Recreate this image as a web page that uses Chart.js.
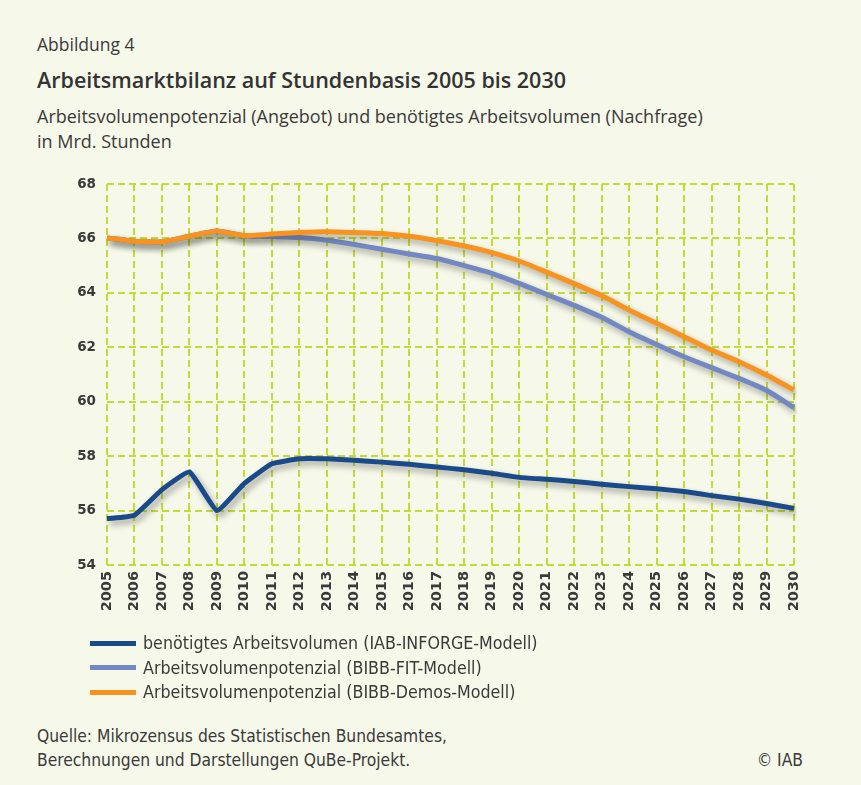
<!DOCTYPE html>
<html>
<head>
<meta charset="utf-8">
<script src="https://cdn.jsdelivr.net/npm/chart.js@4"></script>
<style>
  html, body { margin: 0; padding: 0; }
  body { width: 861px; height: 785px; background: #f6f8ea; position: relative; overflow: hidden; color: #3a3a3a; }
  .t { position: absolute; left: 37px; white-space: nowrap; font-family: "Open Sans", sans-serif; line-height: 1; }
  .cond { font-family: "DejaVu Sans", "Liberation Sans Narrow", sans-serif; font-stretch: condensed; }
  #wrap { position: absolute; left: 0; top: 160px; width: 861px; height: 478px; }
  #legend { position: absolute; left: 90px; top: 631px; }
  .item { display: flex; align-items: center; height: 24.5px; font-size: 17.7px; white-space: nowrap; }
  .sw { width: 46px; height: 5px; margin-right: 7px; }
</style>
</head>
<body>
<div class="t" style="top:36px;font-size:17.5px;">Abbildung 4</div>
<div class="t" style="top:69px;font-size:21.5px;font-weight:600;color:#333;">Arbeitsmarktbilanz auf Stundenbasis 2005 bis 2030</div>
<div class="t" style="top:107px;font-size:18px;">Arbeitsvolumenpotenzial (Angebot) und benötigtes Arbeitsvolumen (Nachfrage)</div>
<div class="t" style="top:132px;font-size:18px;">in Mrd. Stunden</div>

<div id="wrap"><canvas id="chart" width="861" height="478"></canvas></div>
<div id="legend"></div>

<div class="t cond" style="top:728px;font-size:17.3px;">Quelle: Mikrozensus des Statistischen Bundesamtes,</div>
<div class="t cond" style="top:752px;font-size:17.3px;">Berechnungen und Darstellungen QuBe-Projekt.</div>
<div class="t cond" style="top:752px;left:auto;right:58px;font-size:17.3px;">© IAB</div>

<script>
const years = ["2005", "2006", "2007", "2008", "2009", "2010", "2011", "2012", "2013",
  "2014", "2015", "2016", "2017", "2018", "2019", "2020", "2021", "2022", "2023",
  "2024", "2025", "2026", "2027", "2028", "2029", "2030"];

// benötigtes Arbeitsvolumen (IAB-INFORGE)
const inforge = [55.7, 55.83, 56.77, 57.42, 56.0, 57.0, 57.72, 57.9, 57.9, 57.85,
  57.78, 57.7, 57.6, 57.5, 57.37, 57.22, 57.15, 57.07, 56.97, 56.88,
  56.8, 56.7, 56.55, 56.42, 56.26, 56.08];

// Arbeitsvolumenpotenzial (BIBB-FIT)
const bibbFit = [66.02, 65.9, 65.87, 66.08, 66.27, 66.1, 66.07, 66.03, 65.93, 65.78,
  65.6, 65.43, 65.26, 65.0, 64.72, 64.35, 63.94, 63.54, 63.1, 62.57,
  62.1, 61.65, 61.25, 60.86, 60.42, 59.78];

// Arbeitsvolumenpotenzial (BIBB-Demos)
const bibbDemos = [66.02, 65.9, 65.87, 66.08, 66.27, 66.1, 66.16, 66.22, 66.25, 66.22,
  66.18, 66.08, 65.92, 65.72, 65.48, 65.17, 64.76, 64.34, 63.9, 63.37,
  62.88, 62.39, 61.9, 61.47, 60.98, 60.43];

const yTicks = [54, 56, 58, 60, 62, 64, 66, 68];

const seriesNames = [
  "benötigtes Arbeitsvolumen (IAB-INFORGE-Modell)",
  "Arbeitsvolumenpotenzial (BIBB-FIT-Modell)",
  "Arbeitsvolumenpotenzial (BIBB-Demos-Modell)"
];
const seriesColors = ["#1a4a8a", "#7388c2", "#f7931e"];
const seriesData = [inforge, bibbFit, bibbDemos];

// drop shadow under each line
const shadow = {
  id: "shadow",
  beforeDatasetDraw(chart) {
    const c = chart.ctx;
    c.save();
    c.shadowColor = "rgba(40,40,30,0.4)";
    c.shadowBlur = 6;
    c.shadowOffsetX = 3;
    c.shadowOffsetY = 4;
  },
  afterDatasetDraw(chart) {
    chart.ctx.restore();
  }
};

const gridColor = "#c4db36";

new Chart(document.getElementById("chart"), {
  type: "line",
  data: {
    labels: years,
    datasets: seriesData.map((d, i) => ({
      label: seriesNames[i],
      data: d,
      borderColor: seriesColors[i],
      borderWidth: 5,
      pointRadius: 0,
      tension: 0.12,
      order: 2 - i
    }))
  },
  options: {
    responsive: false,
    animation: false,
    events: [],
    layout: { padding: { top: 24, left: 62, right: 67, bottom: 13 } },
    plugins: { legend: { display: false }, tooltip: { enabled: false } },
    scales: {
      x: {
        afterFit: (s) => { s.height = 60; },
        grid: { color: gridColor, lineWidth: 2, drawTicks: false },
        border: { display: false, dash: [7, 4] },
        ticks: {
          autoSkip: false,
          maxRotation: 90,
          minRotation: 90,
          padding: 6,
          color: "#3a3a3a",
          font: { family: "DejaVu Sans", size: 14.5, weight: "bold" }
        }
      },
      y: {
        min: 54,
        max: 68,
        afterFit: (s) => { s.width = 45; },
        afterBuildTicks: (s) => { s.ticks = yTicks.map(v => ({ value: v })); },
        grid: { color: gridColor, lineWidth: 2, drawTicks: false },
        border: { display: false, dash: [7, 4] },
        ticks: {
          padding: 11,
          color: "#3a3a3a",
          font: { family: "DejaVu Sans", size: 13.5, weight: "bold" }
        }
      }
    }
  },
  plugins: [shadow]
});

// legend built from the same series lists
const legend = document.getElementById("legend");
seriesNames.forEach((name, i) => {
  const row = document.createElement("div");
  row.className = "item cond";
  const sw = document.createElement("span");
  sw.className = "sw";
  sw.style.background = seriesColors[i];
  row.appendChild(sw);
  row.appendChild(document.createTextNode(name));
  legend.appendChild(row);
});
</script>
</body>
</html>
